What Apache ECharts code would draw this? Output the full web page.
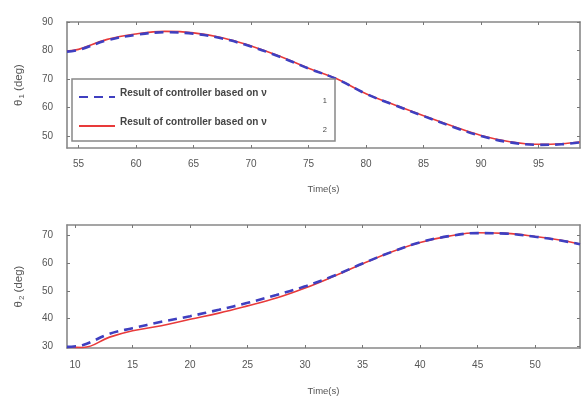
<!doctype html>
<html>
<head>
<meta charset="utf-8"/>
<title>theta response</title>
<script src="https://cdn.jsdelivr.net/npm/echarts@6/dist/echarts.min.js"></script>
<style>
body{margin:0;background:#fff;}
#chart{width:581px;height:397px;}
</style>
</head>
<body>
<div id="chart"></div>
<script>
// top plot: theta1
var topTime = [54, 55, 57.5, 60, 62.5, 65, 67.5, 70, 72.5, 75, 77.5, 80, 82.5, 85, 87.5, 90, 92.5, 95, 97, 98.6];
var topBlue = [79.6, 80.2, 83.6, 85.5, 86.4, 85.9, 84.2, 81.4, 77.8, 73.7, 69.9, 64.8, 60.8, 57.0, 53.3, 50.0, 47.8, 46.9, 47.1, 47.8];
var topRed  = [79.8, 80.4, 83.9, 85.8, 86.7, 86.2, 84.5, 81.6, 78.0, 73.8, 70.0, 64.8, 60.9, 57.1, 53.5, 50.2, 48.0, 47.1, 47.3, 47.9];
var topXTicks = [55, 60, 65, 70, 75, 80, 85, 90, 95];
var topYTicks = [50, 60, 70, 80, 90];

// bottom plot: theta2
var botTime = [9.3, 10.7, 13, 15, 17.5, 20, 22.5, 25, 27.5, 30, 32.5, 35, 37.5, 40, 42.5, 45, 47.5, 50, 52, 53.9];
var botBlue = [29.9, 30.6, 34.6, 36.6, 38.9, 40.9, 43.2, 45.7, 48.5, 51.6, 55.4, 59.8, 63.9, 67.4, 69.6, 70.7, 70.5, 69.4, 68.2, 66.7];
var botRed  = [29.8, 29.7, 33.4, 35.7, 37.5, 39.8, 42.0, 44.6, 47.4, 51.0, 55.2, 59.7, 63.9, 67.3, 69.6, 70.8, 70.6, 69.5, 68.3, 66.8];
var botXTicks = [10, 15, 20, 25, 30, 35, 40, 45, 50];
var botYTicks = [30, 40, 50, 60, 70];

var seriesNames = ['Result of controller based on \u03bd1', 'Result of controller based on \u03bd2'];

function pairs(xs, ys){
    return xs.map(function(x, i){ return [x, ys[i]]; });
}

var frame = {show:true, lineStyle:{color:'#888', width:1.6}};
function axis(opt, ticks, showLabel, margin){
    return Object.assign({
        type:'value',
        axisLine: frame,
        splitLine:{show:false},
        axisTick:{show:true, inside:true, length:3, customValues:ticks, lineStyle:{color:'#777', width:1}},
        axisLabel:{show:showLabel, customValues:ticks, color:'#555', fontSize:10, margin:margin || 10, fontFamily:'Liberation Sans'}
    }, opt);
}

var nameRich = {
    a:{fontSize:11.5, color:'#555', fontFamily:'Liberation Sans'},
    b:{fontSize:8, color:'#555', padding:[7,0,0,1], fontFamily:'Liberation Sans'}
};
var timeName = {fontSize:9.5, color:'#555', fontFamily:'Liberation Sans'};

var chart = echarts.init(document.getElementById('chart'));
chart.setOption({
    animation:false,
    grid:[
        {left:67, right:1, top:22, height:126},
        {left:67, right:1, top:225, height:126}
    ],
    xAxis:[
        axis({gridIndex:0, min:54, max:98.6, position:'bottom', name:'Time(s)', nameLocation:'middle', nameGap:36,
              nameTextStyle:timeName}, topXTicks, true, 11),
        axis({gridIndex:0, min:54, max:98.6, position:'top'}, topXTicks, false),
        axis({gridIndex:1, min:9.3, max:53.9, position:'bottom', name:'Time(s)', nameLocation:'middle', nameGap:38,
              nameTextStyle:timeName}, botXTicks, true, 12),
        axis({gridIndex:1, min:9.3, max:53.9, position:'top'}, botXTicks, false)
    ],
    yAxis:[
        axis({gridIndex:0, min:45.8, max:90, position:'left', name:'{a|\u03b8}{b|1}{a| (deg)}', nameLocation:'middle',
              nameGap:41, nameTextStyle:{rich:nameRich}}, topYTicks, true, 14),
        axis({gridIndex:0, min:45.8, max:90, position:'right'}, topYTicks, false),
        axis({gridIndex:1, min:29.5, max:73.6, position:'left', name:'{a|\u03b8}{b|2}{a| (deg)}', nameLocation:'middle',
              nameGap:41, nameTextStyle:{rich:nameRich}}, botYTicks, true, 14),
        axis({gridIndex:1, min:29.5, max:73.6, position:'right'}, botYTicks, false)
    ],
    legend:{
        orient:'vertical', left:72, top:79,
        data:seriesNames,
        itemWidth:36, itemHeight:10, itemGap:12,
        padding:[9, 8, 7, 6],
        backgroundColor:'#fff', borderColor:'#888', borderWidth:1.5, borderRadius:0,
        itemStyle:{color:'rgba(0,0,0,0)', borderWidth:0},
        formatter:function(name){
            return '{t|' + name.slice(0, -1) + '}{s|' + name.slice(-1) + '}';
        },
        textStyle:{
            rich:{
                t:{fontSize:10, fontWeight:'bold', color:'#444', width:190, padding:[0,0,8,0], fontFamily:'Liberation Sans'},
                s:{fontSize:7.5, color:'#444', width:17, align:'right', padding:[8,0,0,0], fontFamily:'Liberation Sans'}
            }
        }
    },
    series:[
        {name:seriesNames[1], type:'line', xAxisIndex:0, yAxisIndex:0, data:pairs(topTime, topRed), smooth:0.4,
         symbol:'none', z:2, lineStyle:{color:'#e83a3a', width:1.6}, itemStyle:{color:'#e83a3a'}},
        {name:seriesNames[0], type:'line', xAxisIndex:0, yAxisIndex:0, data:pairs(topTime, topBlue), smooth:0.4,
         symbol:'none', z:3, lineStyle:{color:'#3f3fc0', width:2.6, type:[9,6]}, itemStyle:{color:'#3f3fc0'}},
        {name:seriesNames[1], type:'line', xAxisIndex:2, yAxisIndex:2, data:pairs(botTime, botRed), smooth:0.4,
         symbol:'none', z:2, lineStyle:{color:'#e83a3a', width:1.6}, itemStyle:{color:'#e83a3a'}},
        {name:seriesNames[0], type:'line', xAxisIndex:2, yAxisIndex:2, data:pairs(botTime, botBlue), smooth:0.4,
         symbol:'none', z:3, lineStyle:{color:'#3f3fc0', width:2.6, type:[9,6]}, itemStyle:{color:'#3f3fc0'}}
    ]
});
</script>
</body>
</html>
